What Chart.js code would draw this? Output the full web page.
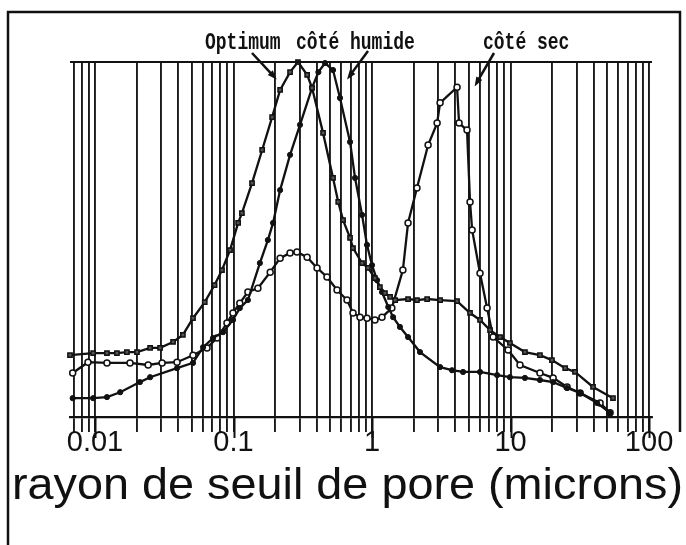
<!DOCTYPE html>
<html>
<head>
<meta charset="utf-8">
<script src="https://cdn.jsdelivr.net/npm/chart.js@4.4.1/dist/chart.umd.min.js"></script>
<style>
  body { margin: 0; background: #fff; }
  canvas { display: block; }
</style>
</head>
<body>
<canvas id="poreChart" width="686" height="545"></canvas>
<script>
// pore throat radius (microns) and relative volume
const optimumX = [0.0066, 0.0097, 0.0122, 0.0144, 0.017, 0.0201, 0.025, 0.0295, 0.0366, 0.0431,
    0.051, 0.062, 0.073, 0.0826, 0.0944, 0.108, 0.115, 0.136, 0.161, 0.19,
    0.217, 0.256, 0.292, 0.34, 0.369, 0.443, 0.523, 0.57, 0.618, 0.694,
    0.729, 0.847, 0.935, 1.05, 1.14, 1.24, 1.35, 1.47, 1.82, 2.11,
    2.5, 3.1, 4.11, 5.1, 6.02, 7.11, 8.4, 9.9, 12.7, 16.3,
    19.9, 24.8, 29.2, 39.4, 54.9];
const optimumY = [16.0, 16.6, 16.6, 16.6, 16.9, 16.9, 18.1, 18.1, 19.8, 21.8,
    26.6, 31.2, 36.1, 40.4, 46.1, 53.9, 56.7, 65.3, 74.8, 84.2,
    92.0, 97.1, 100, 96.3, 92.6, 79.7, 66.8, 59.9, 54.7, 49.6,
    46.7, 42.4, 41.0, 38.1, 35.5, 33.8, 32.7, 31.8, 32.1, 31.8,
    32.1, 31.8, 31.5, 28.1, 26.1, 23.2, 21.2, 19.5, 16.9, 16.0,
    14.6, 12.3, 11.2, 6.9, 3.7];

const humideX = [0.0069, 0.0097, 0.0122, 0.0152, 0.0211, 0.025, 0.0391, 0.051, 0.0603, 0.0711,
    0.084, 0.0991, 0.111, 0.127, 0.155, 0.177, 0.193, 0.217, 0.256, 0.302,
    0.369, 0.41, 0.458, 0.523, 0.587, 0.694, 0.754, 0.847, 0.92, 1.0,
    1.087, 1.18, 1.31, 1.42, 1.59, 1.82, 2.22, 3.1, 3.78, 4.54,
    6.02, 8.0, 9.9, 12.7, 16.3, 20.3, 25.6, 31.8, 42.2, 52.3];
const humideY = [3.7, 3.7, 4.0, 5.4, 8.3, 9.7, 12.3, 13.8, 18.3, 20.9,
    22.6, 26.1, 29.5, 31.8, 42.4, 49.0, 53.9, 63.3, 73.4, 82.0,
    92.6, 97.1, 99.7, 97.7, 89.7, 77.1, 66.8, 56.2, 47.6, 41.8,
    37.5, 34.1, 29.8, 26.9, 24.1, 21.2, 16.9, 12.6, 11.7, 11.2,
    11.2, 10.3, 9.7, 9.5, 8.9, 8.3, 6.6, 5.2, 2.3, -0.5];

const secX = [0.0069, 0.0089, 0.0122, 0.0179, 0.0242, 0.0305, 0.0391, 0.051, 0.0644, 0.076,
    0.0897, 0.0991, 0.111, 0.127, 0.150, 0.184, 0.217, 0.256, 0.287, 0.34,
    0.401, 0.473, 0.559, 0.66, 0.729, 0.819, 0.92, 1.05, 1.18, 1.39,
    1.67, 1.82, 2.11, 2.54, 2.95, 3.10, 4.11, 4.25, 4.85, 5.10,
    5.28, 6.02, 6.77, 7.48, 9.6, 11.7, 16.3, 20.3, 25.6, 31.8,
    44.3, 52.3];
const secY = [10.9, 14.0, 13.8, 13.8, 13.2, 13.8, 14.0, 16.0, 18.1, 20.9,
    25.2, 28.1, 30.9, 34.1, 35.2, 39.8, 43.8, 45.3, 45.6, 44.1,
    41.0, 38.4, 34.7, 31.8, 28.1, 26.9, 26.6, 26.1, 26.9, 29.5,
    40.4, 53.9, 63.9, 76.2, 82.5, 88.3, 92.8, 82.5, 80.5, 59.9,
    51.9, 39.5, 29.5, 21.2, 17.5, 13.2, 10.9, 9.5, 6.9, 5.2,
    2.3, -0.5];

// vertical grid lines (every log step) and the labelled decades
const gridValues = [0.007, 0.008, 0.009,
    0.01, 0.02, 0.03, 0.04, 0.05, 0.06, 0.07, 0.08, 0.09,
    0.1, 0.2, 0.3, 0.4, 0.5, 0.6, 0.7, 0.8, 0.9,
    1, 2, 3, 4, 5, 6, 7, 8, 9,
    10, 20, 30, 40, 50, 60, 70, 80, 90, 100];
const decadeValues = [0.01, 0.1, 1, 10, 100];
const decadeLabels = ['0.01', '0.1', '1', '10', '100'];

const curveNotes = [
    { text: 'Optimum', x: 205, y: 49, tail: [252, 53], tip: [0.205, 95] },
    { text: 'côté humide', x: 296, y: 49, tail: [368, 51], tip: [0.66, 95] },
    { text: 'côté sec', x: 483, y: 49, tail: [494, 53], tip: [5.5, 93] }
];

function toPoints(xs, ys) {
    return xs.map(function(x, i) { return { x: x, y: ys[i] }; });
}

function decadeIndex(v) {
    for (let i = 0; i < decadeValues.length; i++) {
        if (Math.abs(v - decadeValues[i]) / decadeValues[i] < 1e-6) return i;
    }
    return -1;
}

const decorations = {
    id: 'decorations',
    afterDraw: function(chart) {
        const ctx = chart.ctx;
        const area = chart.chartArea;
        const xs = chart.scales.x;
        const ys = chart.scales.y;
        ctx.save();
        ctx.strokeStyle = '#111';
        ctx.fillStyle = '#111';

        // outer frame of the scan
        ctx.lineWidth = 2.5;
        ctx.beginPath();
        ctx.moveTo(8, 545);
        ctx.lineTo(8, 12);
        ctx.lineTo(680, 12);
        ctx.lineTo(680, 432);
        ctx.stroke();

        // top edge of the plot
        ctx.lineWidth = 2.2;
        ctx.beginPath();
        ctx.moveTo(area.left, area.top);
        ctx.lineTo(area.right, area.top);
        ctx.stroke();

        // longer ticks at the decades
        ctx.lineWidth = 2;
        decadeValues.forEach(function(v) {
            const px = Math.round(xs.getPixelForValue(v)) + 0.5;
            ctx.beginPath();
            ctx.moveTo(px, area.bottom);
            ctx.lineTo(px, area.bottom + 21);
            ctx.stroke();
        });

        // curve labels and arrows
        curveNotes.forEach(function(n) {
            ctx.save();
            ctx.font = 'bold 18px "Liberation Mono"';
            ctx.textBaseline = 'alphabetic';
            ctx.translate(n.x, n.y);
            ctx.scale(1, 1.3);
            ctx.fillText(n.text, 0, 0);
            ctx.restore();

            const tx = xs.getPixelForValue(n.tip[0]);
            const ty = ys.getPixelForValue(n.tip[1]);
            const ang = Math.atan2(ty - n.tail[1], tx - n.tail[0]);
            ctx.lineWidth = 2.5;
            ctx.beginPath();
            ctx.moveTo(n.tail[0], n.tail[1]);
            ctx.lineTo(tx - 6 * Math.cos(ang), ty - 6 * Math.sin(ang));
            ctx.stroke();
            ctx.beginPath();
            ctx.moveTo(tx, ty);
            ctx.lineTo(tx - 10 * Math.cos(ang - 0.35), ty - 10 * Math.sin(ang - 0.35));
            ctx.lineTo(tx - 10 * Math.cos(ang + 0.35), ty - 10 * Math.sin(ang + 0.35));
            ctx.closePath();
            ctx.fill();
        });

        // axis title, stretched to the width it has in the scan
        const title = 'rayon de seuil de pore (microns)';
        ctx.font = '44px "Liberation Sans"';
        ctx.textBaseline = 'alphabetic';
        const w = ctx.measureText(title).width;
        ctx.translate(12, 499);
        ctx.scale(671 / w, 1);
        ctx.fillText(title, 0, 0);
        ctx.restore();
    }
};

const ctx = document.getElementById('poreChart').getContext('2d');
const poreChart = new Chart(ctx, {
    type: 'scatter',
    data: {
        datasets: [{
            label: 'Optimum',
            data: toPoints(optimumX, optimumY),
            showLine: true,
            borderColor: '#111',
            borderWidth: 2.3,
            pointStyle: 'rect',
            pointRadius: 3,
            pointBackgroundColor: '#555',
            pointBorderColor: '#111',
            pointBorderWidth: 1.5,
            tension: 0,
            clip: 6
        }, {
            label: 'côté humide',
            data: toPoints(humideX, humideY),
            showLine: true,
            borderColor: '#111',
            borderWidth: 2.3,
            pointStyle: 'circle',
            pointRadius: 2.6,
            pointBackgroundColor: '#111',
            pointBorderColor: '#111',
            pointBorderWidth: 1,
            tension: 0,
            clip: 6
        }, {
            label: 'côté sec',
            data: toPoints(secX, secY),
            showLine: true,
            borderColor: '#111',
            borderWidth: 2.3,
            pointStyle: 'circle',
            pointRadius: 3,
            pointBackgroundColor: '#fff',
            pointBorderColor: '#111',
            pointBorderWidth: 1.5,
            tension: 0,
            clip: 6
        }]
    },
    options: {
        responsive: false,
        animation: false,
        devicePixelRatio: 1,
        layout: {
            padding: { left: 70, right: 34, top: 62, bottom: 0 }
        },
        plugins: {
            legend: { display: false },
            tooltip: { enabled: false }
        },
        scales: {
            x: {
                type: 'logarithmic',
                min: 0.0066,
                max: 105,
                afterBuildTicks: function(axis) {
                    axis.ticks = gridValues.map(function(v) { return { value: v }; });
                },
                afterFit: function(axis) {
                    axis.height = 128;
                },
                grid: {
                    color: '#1a1a1a',
                    lineWidth: 1.9,
                    drawOnChartArea: true,
                    drawTicks: true,
                    tickLength: 15
                },
                border: { display: true, color: '#111', width: 2.2 },
                ticks: {
                    autoSkip: false,
                    maxRotation: 0,
                    minRotation: 0,
                    padding: -6,
                    color: '#111',
                    font: { family: 'Liberation Sans', size: 29 },
                    callback: function(value) {
                        const i = decadeIndex(value);
                        return i >= 0 ? decadeLabels[i] : '';
                    }
                },
                title: { display: false }
            },
            y: {
                display: false,
                min: -1.7,
                max: 100
            }
        }
    },
    plugins: [decorations]
});
</script>
</body>
</html>
